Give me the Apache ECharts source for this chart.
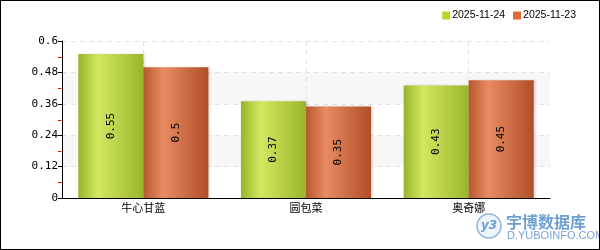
<!DOCTYPE html>
<html><head><meta charset="utf-8">
<script src="https://cdn.jsdelivr.net/npm/echarts@6/dist/echarts.min.js"></script>
<style>html,body{margin:0;padding:0;background:#fff}#c{width:600px;height:250px;box-sizing:border-box;border:1px solid #000}</style>
</head><body><div id="c"></div>
<script>
var categories = ['牛心甘蓝', '圆包菜', '奥奇娜'];
var seriesNames = ['2025-11-24', '2025-11-23'];
var values1124 = [0.55, 0.37, 0.43];
var values1123 = [0.5, 0.35, 0.45];
var yTicks = [0, 0.12, 0.24, 0.36, 0.48, 0.6];

function grad(dark, light, dark2) {
  return new echarts.graphic.LinearGradient(0, 0, 1, 0, [
    {offset: 0, color: dark}, {offset: 0.3, color: light}, {offset: 0.31, color: light}, {offset: 1, color: dark2}
  ]);
}
var chart = echarts.init(document.getElementById('c'), null, {renderer: 'canvas'});
var mono = 'DejaVu Sans Mono';
var yMin = yTicks[0], yMax = yTicks[yTicks.length - 1], yStep = yTicks[1] - yTicks[0];
// minor tick positions halfway between major ticks
var minorTicks = [];
for (var i = 0; i < yTicks.length - 1; i++) minorTicks.push([0, (yTicks[i] + yTicks[i + 1]) / 2]);
// helper axis positions for vertical grid lines at category centres
var gridSlots = [];
categories.forEach(function (c, i) { gridSlots.push('b' + i, c); });
gridSlots.push('end');

chart.setOption({
  animation: false,
  legend: {
    top: 4, right: 18, itemWidth: 8, itemHeight: 8, itemGap: 8,
    icon: 'rect',
    textStyle: {fontFamily: 'Liberation Sans', fontSize: 10.5, color: '#000', padding: [0, 0, 0, -3]},
    data: [
      {name: seriesNames[0], itemStyle: {color: '#b5d82e'}},
      {name: seriesNames[1], itemStyle: {color: '#e0683a'}}
    ]
  },
  grid: {left: 61, right: 49, top: 40, bottom: 51},
  xAxis: [{
    type: 'category', data: categories,
    axisLine: {lineStyle: {color: '#000', width: 1}},
    axisTick: {alignWithLabel: true, length: 4, lineStyle: {color: '#000'}},
    axisLabel: {color: '#000', fontSize: 11, margin: 4, fontFamily: 'Noto Sans CJK SC'},
    splitLine: {show: false}
  }, {
    type: 'category', data: gridSlots, boundaryGap: false, position: 'bottom',
    axisLine: {show: false}, axisTick: {show: false}, axisLabel: {show: false},
    splitLine: {show: true, interval: function (idx) { return idx % 2 === 1; },
      lineStyle: {color: '#e2e2e2', type: [5, 4], width: 1}}
  }],
  yAxis: {
    type: 'value', min: yMin, max: yMax, interval: yStep,
    axisLine: {show: true, lineStyle: {color: '#000'}},
    axisTick: {show: true, length: 4, lineStyle: {color: '#000'}},
    axisLabel: {color: '#000', fontSize: 11, fontFamily: mono, margin: 4,
      formatter: function (v) { return String(+v.toFixed(2)); }},
    splitLine: {show: true, lineStyle: {color: '#e2e2e2', type: [5, 4]}},
    splitArea: {show: true, areaStyle: {color: ['#fff', '#f7f7f7']}}
  },
  series: [
    {
      name: seriesNames[0], type: 'bar', data: values1124, barGap: '0%', barCategoryGap: '20%',
      itemStyle: {color: grad('#98b42a', '#d0e860', '#9ab52c'), shadowColor: 'rgba(0,0,0,0.12)', shadowOffsetX: 2, shadowBlur: 2},
      label: {show: true, position: 'inside', rotate: 90, fontFamily: mono, fontSize: 11, color: '#000'}
    },
    {
      name: seriesNames[1], type: 'bar', data: values1123,
      itemStyle: {color: grad('#b8582e', '#e88a62', '#b04e27'), shadowColor: 'rgba(0,0,0,0.12)', shadowOffsetX: 2, shadowBlur: 2},
      label: {show: true, position: 'inside', rotate: 90, fontFamily: mono, fontSize: 11, color: '#000'}
    },
    {
      name: 'minorTicks', type: 'custom', silent: true, clip: false, z: 5,
      data: minorTicks, encode: {x: 0, y: 1},
      renderItem: function (params, api) {
        var y = Math.round(api.coord([api.value(0), api.value(1)])[1]) + 0.5;
        var x = params.coordSys.x;
        return {type: 'line', shape: {x1: x - 4, y1: y, x2: x - 0.5, y2: y},
          style: {stroke: '#ff0000', lineWidth: 1}};
      }
    }
  ],
  graphic: [
    {type: 'circle', shape: {cx: 488, cy: 225, r: 12}, style: {fill: '#eef4fb', stroke: '#8fb3dc', lineWidth: 1.5}},
    {type: 'text', x: 488, y: 225, style: {text: 'y3', fill: '#6f9fd3', font: 'italic bold 12px DejaVu Sans', align: 'center', verticalAlign: 'middle'}},
    {type: 'text', x: 505, y: 221, style: {text: '宇博数据库', fill: '#6f9fd3', font: 'bold 16px Noto Sans CJK SC', align: 'left', verticalAlign: 'middle'}},
    {type: 'text', x: 506, y: 235, style: {text: 'D.YUBOINFO.COM', fill: '#7aa4d4', font: '11px Liberation Sans', align: 'left', verticalAlign: 'middle'}}
  ]
});
</script></body></html>
